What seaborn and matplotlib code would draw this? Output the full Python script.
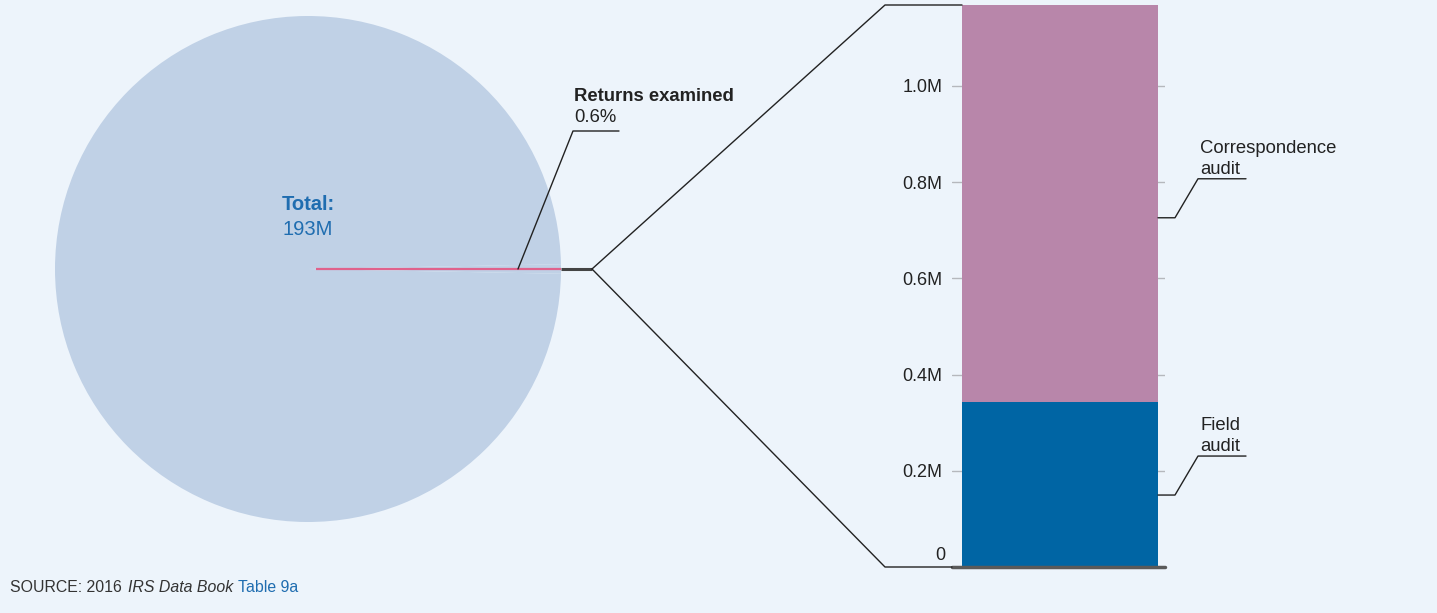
import matplotlib
matplotlib.use("Agg")
import matplotlib.pyplot as plt
import seaborn as sns
import pandas as pd
import numpy as np

# Individual income tax returns, 2016
total_returns = 193          # millions of returns filed
examined_share = 0.6         # percent of returns examined
audit_types = ["Field audit", "Correspondence audit"]
audit_values = [0.343, 0.825]  # millions of returns examined
y_ticks = [0, 0.2, 0.4, 0.6, 0.8, 1.0]
y_tick_labels = ["", "0.2M", "0.4M", "0.6M", "0.8M", "1.0M"]

BG = "#edf4fb"
PIE = "#c0d1e6"
SLICE = "#e0628c"
FIELD = "#0065a4"
CORR = "#b886aa"
BLUE_TXT = "#1f6db0"
INK = "#222222"

sns.set_theme(style="white")
plt.rcParams["font.family"] = ["Liberation Sans", "DejaVu Sans"]

W, H = 1437, 613
fig = plt.figure(figsize=(W / 100, H / 100), dpi=100, facecolor=BG)


def rect(left, top, width, height):
    return [left / W, (H - top - height) / H, width / W, height / H]


# ---- pie of all returns -------------------------------------------------
pie_ax = fig.add_axes(rect(55, 16, 506, 506))
pie_ax.set_facecolor("none")
small = total_returns * examined_share / 100
rest = total_returns - small
half_angle = examined_share / 100 * 360 / 2
wedges, _ = pie_ax.pie([small, rest], colors=[PIE, PIE], startangle=-half_angle,
                       radius=1, wedgeprops=dict(linewidth=0))
pie_ax.set_xlim(-1, 1)
pie_ax.set_ylim(-1, 1)
pie_ax.axis("off")

# examined share marked along its wedge's centre angle
mid = np.deg2rad((wedges[0].theta1 + wedges[0].theta2) / 2)
r = np.array([0.03, 1.0])
pie_ax.plot(r * np.cos(mid), r * np.sin(mid), color=SLICE, lw=1.6, solid_capstyle="butt")

pie_ax.text(0, 0.253, "Total:", ha="center", va="center", fontsize=14.5,
            fontweight="bold", color=BLUE_TXT)
pie_ax.text(0, 0.158, f"{total_returns}M", ha="center", va="center", fontsize=14.5,
            color=BLUE_TXT)

# ---- stacked bar of examined returns ------------------------------------
bx = fig.add_axes(rect(952, 5, 213, 562))
bx.set_facecolor("none")
df = pd.DataFrame({"group": ["Returns examined"],
                   "total": [sum(audit_values)],
                   "field": [audit_values[0]]})
sns.barplot(data=df, x="group", y="total", color=CORR, saturation=1, width=0.8,
            linewidth=0, ax=bx)
sns.barplot(data=df, x="group", y="field", color=FIELD, saturation=1, width=0.8,
            linewidth=0, ax=bx)
bx.set_xlim(-0.4 - 0.8 * 10 / 196, 0.4 + 0.8 * 7 / 196)
bx.set_ylim(0, sum(audit_values))
bx.set_axisbelow(True)
bx.yaxis.grid(True, color="#b5b8bd", lw=1)
bx.set_yticks(y_ticks)
bx.set_yticklabels(y_tick_labels)
bx.tick_params(axis="y", length=0, pad=7, labelsize=13, labelcolor=INK)
bx.set_xticks([])
bx.set_xlabel("")
bx.set_ylabel("")
for s in bx.spines.values():
    s.set_visible(False)
bx.axhline(0, color="#5a5a5a", lw=2.5, zorder=3, clip_on=False)
bx.annotate("0", xy=(0, 0), xycoords=("axes fraction", "data"), xytext=(-7, 12),
            textcoords="offset pixels", ha="right", va="center", fontsize=13, color=INK)

# ---- connectors and labels (pixel overlay) -------------------------------
ov = fig.add_axes([0, 0, 1, 1], zorder=5)
ov.set_xlim(0, W)
ov.set_ylim(0, H)
ov.axis("off")
fig.canvas.draw()

edge = pie_ax.transData.transform((np.cos(mid), np.sin(mid)))
bar = bx.patches[0]
bar_left = bar.get_x()
bar_right = bar.get_x() + bar.get_width()
top = bx.transData.transform((bar_left, sum(audit_values)))
bottom = bx.transData.transform((bx.get_xlim()[0], 0))
knee_x = edge[0] + 31
fan_x = bottom[0] - 67

ov.plot([edge[0], knee_x], [edge[1], edge[1]], color="#444444", lw=2.2,
        solid_capstyle="butt")
ov.plot([knee_x, fan_x, top[0]], [edge[1], top[1], top[1]], color="#222222", lw=1)
ov.plot([knee_x, fan_x, bottom[0]], [edge[1], bottom[1], bottom[1]], color="#222222", lw=1)

# leader for the examined share
p0 = pie_ax.transData.transform((0.83 * np.cos(mid), 0.83 * np.sin(mid)))
ly = p0[1] + 138
ov.plot([p0[0], p0[0] + 55, p0[0] + 101], [p0[1], ly, ly], color="#222222", lw=1)
ov.text(p0[0] + 56, ly + 9, f"{examined_share}%", ha="left", va="baseline",
        fontsize=13.3, color=INK)
ov.text(p0[0] + 56, ly + 30, "Returns examined", ha="left", va="baseline",
        fontsize=13.3, fontweight="bold", color=INK)

# leaders for the audit segments, anchored part-way up each segment
label_text = {"Field audit": "Field\naudit",
              "Correspondence audit": "Correspondence\naudit"}
anchor_frac = [0.436, 0.464]
base = 0
for name, val, frac in zip(audit_types, audit_values, anchor_frac):
    y_val = base + frac * val
    base += val
    sx, sy = bx.transData.transform((bar_right, y_val))
    ey = sy + 39
    ov.plot([sx, sx + 17, sx + 40, sx + 88], [sy, sy, ey, ey], color="#222222", lw=1)
    ov.text(sx + 42, ey + 1, label_text[name], ha="left", va="bottom",
            fontsize=13.3, color=INK, linespacing=1.3)

# source line
sy = H - 592
ov.text(10, sy, "SOURCE: 2016", ha="left", va="baseline", fontsize=11.4, color="#333333")
ov.text(128, sy, "IRS Data Book", ha="left", va="baseline", fontsize=11.4,
        style="italic", color="#333333")
ov.text(238, sy, "Table 9a", ha="left", va="baseline", fontsize=11.4, color=BLUE_TXT)

fig.savefig("out.png", dpi=100, facecolor=BG)
